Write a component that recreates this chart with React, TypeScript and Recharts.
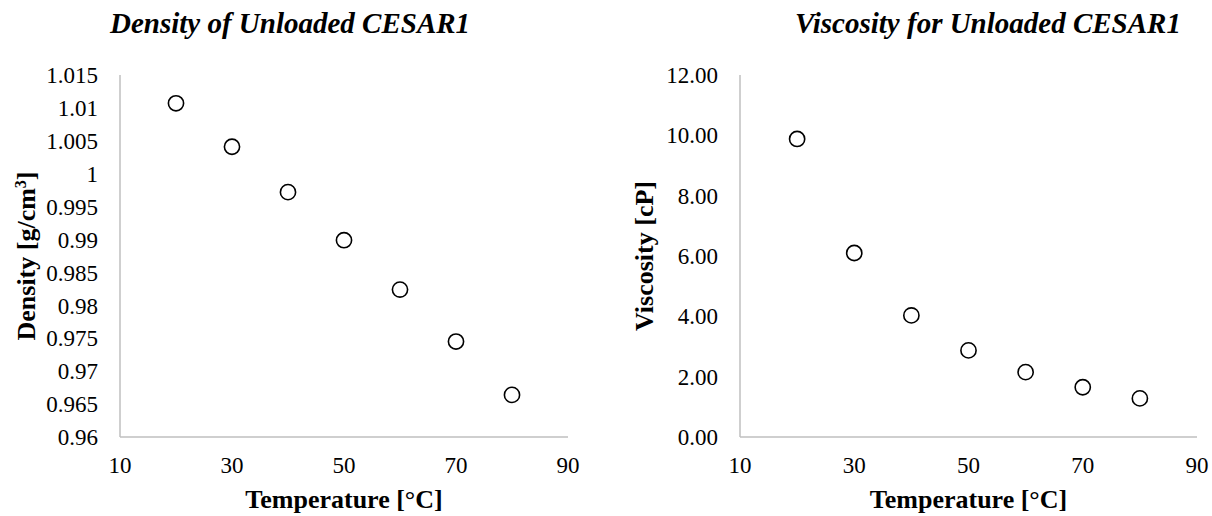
import { Label, Scatter, ScatterChart, XAxis, YAxis } from "recharts";

const serif = '"Liberation Serif", "Times New Roman", serif';

const temps = [20, 30, 40, 50, 60, 70, 80];
const densityValues = [1.0107, 1.0041, 0.9972, 0.9899, 0.9824, 0.9745, 0.9664];
const viscosityValues = [9.88, 6.1, 4.03, 2.87, 2.15, 1.65, 1.28];

const xTicks = [10, 30, 50, 70, 90];
const densityTicks = [0.96, 0.965, 0.97, 0.975, 0.98, 0.985, 0.99, 0.995, 1, 1.005, 1.01, 1.015];
const viscosityTicks = [0, 2, 4, 6, 8, 10, 12];

const densityRows = temps.map((t, i) => ({ t, v: densityValues[i] }));
const viscosityRows = temps.map((t, i) => ({ t, v: viscosityValues[i] }));

const axisLine = { stroke: "#bfbfbf", strokeWidth: 1.5 };
const tickFont = { fontFamily: serif, fontSize: 23, fill: "#000" };

const ring = (p: any) => (
  <circle cx={p.cx} cy={p.cy} r={7.6} fill="#fff" stroke="#000" strokeWidth={1.6} />
);

// serif tick text; x ticks hang below the axis, y ticks are centred on the tick
const xTick = (p: any) => (
  <text x={p.x} y={p.y} dy="0.71em" textAnchor="middle" style={tickFont}>
    {p.payload.value}
  </text>
);

const yTick = (fmt?: (v: number) => string) => (p: any) => (
  <text x={p.x} y={p.y} dy="0.355em" textAnchor="end" style={tickFont}>
    {fmt ? fmt(p.payload.value) : String(p.payload.value)}
  </text>
);

function xLabel(vb: any) {
  return (
    <text
      x={vb.x + vb.width / 2}
      y={508}
      textAnchor="middle"
      style={{ fontFamily: serif, fontWeight: "bold", fontSize: 26, fill: "#000" }}
    >
      Temperature [°C]
    </text>
  );
}

function PanelChart({
  rows,
  ticks,
  fmt,
  marginRight,
  yWidth,
  yLabel,
}: {
  rows: { t: number; v: number }[];
  ticks: number[];
  fmt?: (v: number) => string;
  marginRight: number;
  yWidth: number;
  yLabel: (vb: any) => any;
}) {
  return (
    <ScatterChart
      width={606}
      height={516}
      margin={{ top: 75, right: marginRight, left: 0, bottom: 0 }}
      style={{ fontFamily: serif }}
    >
      <XAxis
        type="number"
        dataKey="t"
        domain={[10, 90]}
        ticks={xTicks}
        interval={0}
        height={79}
        tickLine={false}
        tickSize={0}
        tickMargin={20}
        axisLine={axisLine}
        tick={xTick}
      >
        <Label content={(p: any) => xLabel(p.viewBox)} />
      </XAxis>
      <YAxis
        type="number"
        dataKey="v"
        domain={[ticks[0], ticks[ticks.length - 1]]}
        ticks={ticks}
        interval={0}
        width={yWidth}
        tickLine={false}
        tickSize={0}
        tickMargin={22}
        axisLine={axisLine}
        tick={yTick(fmt)}
      >
        <Label content={(p: any) => yLabel(p.viewBox)} />
      </YAxis>
      <Scatter data={rows} shape={ring} isAnimationActive={false} />
    </ScatterChart>
  );
}

const titleStyle = {
  position: "absolute" as const,
  top: 9,
  fontFamily: serif,
  fontSize: 29,
  fontWeight: "bold" as const,
  fontStyle: "italic" as const,
  lineHeight: 1,
  whiteSpace: "nowrap" as const,
  color: "#000",
};

const yLabelStyle = { fontFamily: serif, fontWeight: "bold" as const, fontSize: 26, fill: "#000" };

export default function App() {
  return (
    <div style={{ position: "absolute", left: 0, top: 0, width: 1212, height: 516, background: "#fff" }}>
      <div style={{ position: "absolute", left: 0, top: 0 }}>
        <PanelChart
          rows={densityRows}
          ticks={densityTicks}
          marginRight={38}
          yWidth={120}
          yLabel={(vb) => (
            <text
              transform={`translate(35, ${vb.y + vb.height / 2}) rotate(-90)`}
              textAnchor="middle"
              style={yLabelStyle}
            >
              Density [g/cm
              <tspan dy={-9} style={{ fontSize: 16 }}>3</tspan>
              <tspan dy={9}>]</tspan>
            </text>
          )}
        />
      </div>
      <div style={{ position: "absolute", left: 606, top: 0 }}>
        <PanelChart
          rows={viscosityRows}
          ticks={viscosityTicks}
          fmt={(v) => v.toFixed(2)}
          marginRight={15}
          yWidth={134}
          yLabel={(vb) => (
            <text
              transform={`translate(47, ${vb.y + vb.height / 2}) rotate(-90)`}
              textAnchor="middle"
              style={yLabelStyle}
            >
              Viscosity [cP]
            </text>
          )}
        />
      </div>
      <div style={{ ...titleStyle, left: 110 }}>Density of Unloaded CESAR1</div>
      <div style={{ ...titleStyle, left: 795 }}>Viscosity for Unloaded CESAR1</div>
    </div>
  );
}
